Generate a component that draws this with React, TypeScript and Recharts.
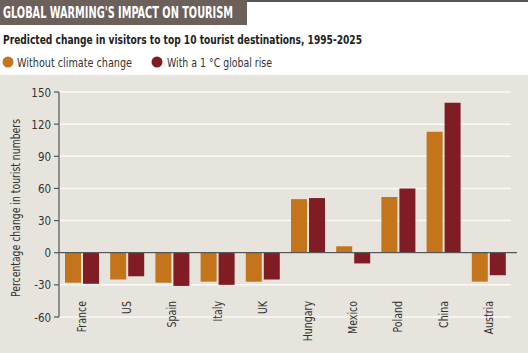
import { BarChart, Bar, XAxis, YAxis, CartesianGrid, ReferenceLine } from "recharts"

const countries = ["France", "US", "Spain", "Italy", "UK", "Hungary", "Mexico", "Poland", "China", "Austria"]
const withoutChange = [-28, -25, -28, -27, -27, 50, 6, 52, 113, -27]
const withRise = [-29, -22, -31, -30, -25, 51, -10, 60, 140, -21]
const seriesNames = ["Without climate change", "With a 1 °C global rise"]
const yTicks = [-60, -30, 0, 30, 60, 90, 120, 150]

const FONT = '"Liberation Sans Narrow", "DejaVu Sans Condensed", sans-serif'
const ORANGE = "#c4741b"
const RED = "#801d24"

const chartData = countries.map((name, i) => ({
  name,
  without: withoutChange[i],
  rise: withRise[i],
}))

// rotated country names, hanging down from just under the -30 line
const CountryTick = (props: any) => {
  const { x, y, payload } = props
  return (
    <g transform={`translate(${x},${y - 16})`}>
      <text transform="rotate(-90) scale(0.84,1)" textAnchor="end" dy="0.35em" fontSize={12.5} fill="#333" fontFamily={FONT}>
        {payload.value}
      </text>
    </g>
  )
}

const YTick = (props: any) => {
  const { x, y, payload } = props
  return (
    <g transform={`translate(${x},${y})`}>
      <text transform="scale(0.88,1)" textAnchor="end" dy="0.35em" fontSize={13} fill="#333" fontFamily={FONT}>
        {payload.value}
      </text>
    </g>
  )
}

const ZeroLine = (props: any) => (
  <line x1={props.x1} y1={props.y1} x2={props.x2 + 6} y2={props.y2} stroke="#555" strokeWidth={1.2} />
)

export default function App() {
  return (
    <div style={{ position: "absolute", left: 0, top: 0, width: 528, height: 353, background: "#fff", overflow: "hidden", fontFamily: FONT }}>
      <div style={{ position: "absolute", left: 247, top: 0, right: 0, height: 1.5, background: "#555" }} />
      <div style={{ position: "absolute", left: 0, top: 0, width: 247, height: 25, background: "#6b605a" }} />
      <svg width={528} height={75} style={{ position: "absolute", left: 0, top: 0 }}>
        <text x={3} y={18} fill="#fff" fontWeight="bold" fontSize={15} fontFamily={FONT} textLength={230} lengthAdjust="spacingAndGlyphs">
          GLOBAL WARMING'S IMPACT ON TOURISM
        </text>
        <text x={3} y={44} fill="#222" fontWeight="bold" fontSize={13} fontFamily={FONT} textLength={359} lengthAdjust="spacingAndGlyphs">
          Predicted change in visitors to top 10 tourist destinations, 1995-2025
        </text>
        <circle cx={8} cy={62} r={5.5} fill={ORANGE} />
        <text x={17} y={66.5} fill="#333" fontSize={13} fontFamily={FONT} textLength={115} lengthAdjust="spacingAndGlyphs">
          {seriesNames[0]}
        </text>
        <circle cx={157} cy={62} r={5.5} fill={RED} />
        <text x={167} y={66.5} fill="#333" fontSize={13} fontFamily={FONT} textLength={105} lengthAdjust="spacingAndGlyphs">
          {seriesNames[1]}
        </text>
      </svg>
      <div style={{ position: "absolute", left: 0, top: 75, width: 528, height: 278, background: "#e6e4dd" }} />
      <div style={{ position: "absolute", left: 0, top: 0 }}>
        <BarChart width={528} height={353} data={chartData} margin={{ top: 92, right: 17, left: 0, bottom: 0 }} barSize={16} barGap={2}>
          <CartesianGrid vertical={false} stroke="#fbfaf6" strokeWidth={1.5} />
          <XAxis
            dataKey="name"
            axisLine={false}
            tickLine={false}
            tickSize={0}
            tickMargin={0}
            height={36}
            interval={0}
            tick={<CountryTick />}
          />
          <YAxis
            width={59}
            domain={[-60, 150]}
            ticks={yTicks}
            interval={0}
            axisLine={{ stroke: "#555", strokeWidth: 1.2 }}
            tickLine={{ stroke: "#555", strokeWidth: 1.2 }}
            tickSize={5}
            tickMargin={3}
            tick={<YTick />}
            label={{
              content: () => (
                <text x={0} y={0} transform="translate(15,208) rotate(-90)" textAnchor="middle" dy="0.35em" fontSize={13} fill="#333" fontFamily={FONT} textLength={178} lengthAdjust="spacingAndGlyphs">
                  Percentage change in tourist numbers
                </text>
              ),
            }}
          />
          <ReferenceLine y={0} shape={<ZeroLine />} />
          <Bar dataKey="without" name={seriesNames[0]} fill={ORANGE} isAnimationActive={false} />
          <Bar dataKey="rise" name={seriesNames[1]} fill={RED} isAnimationActive={false} />
        </BarChart>
      </div>
    </div>
  )
}
